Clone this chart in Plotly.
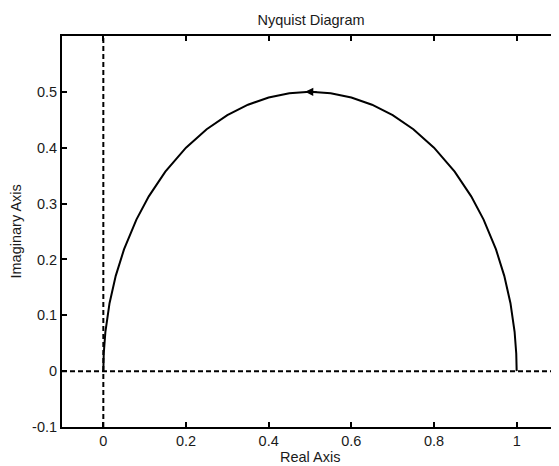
import plotly.graph_objects as go

# Nyquist locus (upper semicircle)
re_vals = [1.0, 0.999, 0.995, 0.985, 0.97, 0.95, 0.92, 0.89, 0.85, 0.8, 0.75, 0.7, 0.65, 0.6, 0.55,
           0.5, 0.45, 0.4, 0.35, 0.3, 0.25, 0.2, 0.15, 0.11, 0.08, 0.05, 0.03, 0.015, 0.005, 0.001, 0.0]
im_vals = [0.0, 0.0316, 0.0705, 0.1216, 0.1706, 0.2179, 0.2713, 0.3129, 0.3571, 0.4, 0.433, 0.4583,
           0.477, 0.4899, 0.4975, 0.5, 0.4975, 0.4899, 0.477, 0.4583, 0.433, 0.4, 0.3571, 0.3129,
           0.2713, 0.2179, 0.1706, 0.1216, 0.0705, 0.0316, 0.0]

# direction arrow (tail -> head)
arrow_tail = (0.52, 0.4997)
arrow_head = (0.488, 0.5)

x_ticks = [0, 0.2, 0.4, 0.6, 0.8, 1]
x_tick_labels = ["0", "0.2", "0.4", "0.6", "0.8", "1"]
y_ticks = [-0.1, 0, 0.1, 0.2, 0.3, 0.4, 0.5]
y_tick_labels = ["-0.1", "0", "0.1", "0.2", "0.3", "0.4", "0.5"]

x_range = [-0.1, 1.1]
y_range = [-0.1, 0.6]

font_family = "Liberation Sans, Arial, sans-serif"
text_color = "#1a1a1a"
fsize = 14.5

# page body has an 8px margin, so the figure is sized to fit the window
FIG_W, FIG_H = 551, 458

fig = go.Figure()

fig.add_trace(go.Scatter(x=re_vals, y=im_vals, mode="lines",
                         line=dict(color="black", width=2), showlegend=False,
                         hoverinfo="skip"))

# dashed reference axes
fig.add_hline(y=0, line=dict(color="black", width=2, dash="5px,3px"))
fig.add_vline(x=0, line=dict(color="black", width=2, dash="5px,3px"))

fig.add_annotation(x=arrow_head[0], y=arrow_head[1], ax=arrow_tail[0], ay=arrow_tail[1],
                   xref="x", yref="y", axref="x", ayref="y", showarrow=True,
                   arrowhead=2, arrowsize=1.1, arrowwidth=1.5, arrowcolor="black", text="")

axis_common = dict(showline=True, linecolor="black", linewidth=2, mirror="ticks",
                   ticks="inside", ticklen=5, tickwidth=1.5, tickcolor="black",
                   showgrid=False, zeroline=False, automargin=False,
                   tickfont=dict(family=font_family, size=fsize, color=text_color))

fig.update_xaxes(range=x_range, tickvals=x_ticks, ticktext=x_tick_labels, **axis_common)
fig.update_yaxes(range=y_range, tickvals=y_ticks, ticktext=y_tick_labels, **axis_common)

# axis titles placed as text annotations
fig.add_annotation(text="Real Axis", xref="paper", yref="paper", x=0.5, y=0,
                   yanchor="middle", yshift=-30, showarrow=False,
                   font=dict(family=font_family, size=fsize, color=text_color))
fig.add_annotation(text="Imaginary Axis", xref="paper", yref="paper", x=0, y=0.5,
                   xanchor="center", xshift=-47, textangle=-90, showarrow=False,
                   font=dict(family=font_family, size=fsize, color=text_color))

fig.update_layout(
    width=FIG_W, height=FIG_H,
    margin=dict(l=54, r=1, t=28, b=39),
    paper_bgcolor="white", plot_bgcolor="white",
    title=dict(text="Nyquist Diagram", x=303 / FIG_W, xanchor="center", y=1 - 12 / FIG_H,
               yanchor="middle", yref="container", xref="container",
               font=dict(family=font_family, size=fsize, color=text_color)),
)

fig.write_html("out.html")
